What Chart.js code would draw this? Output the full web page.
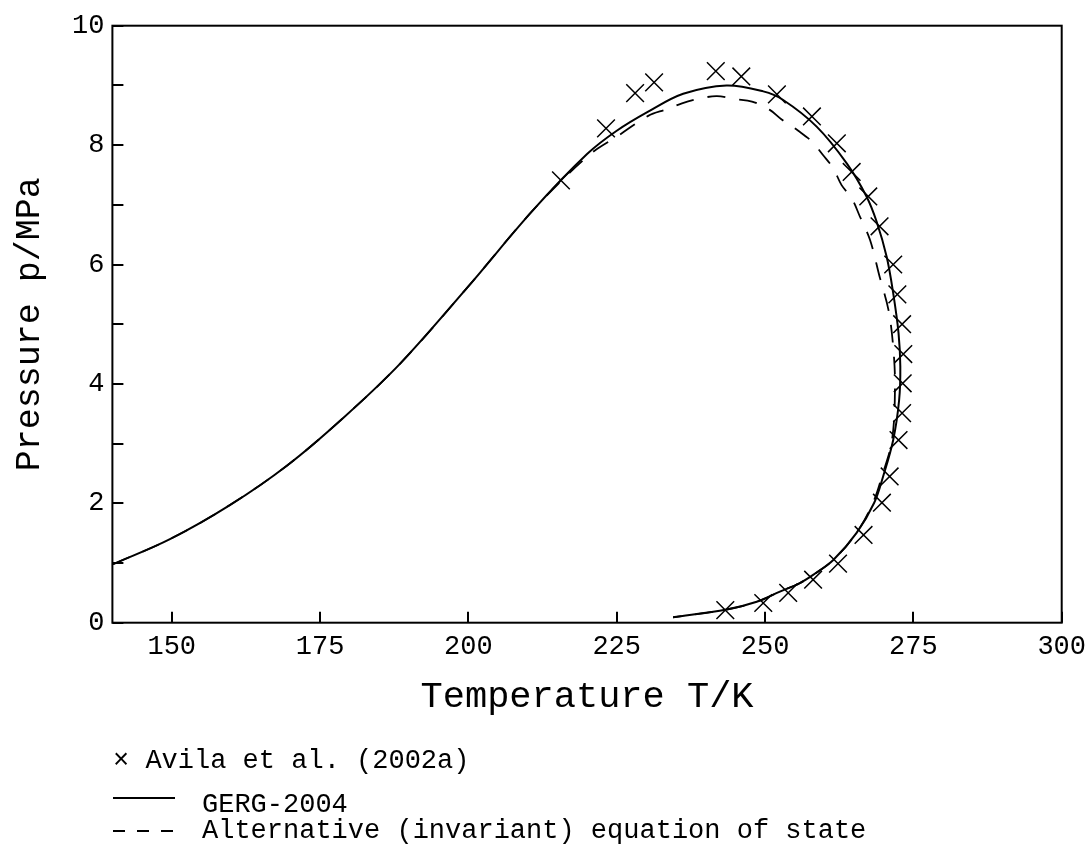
<!DOCTYPE html>
<html>
<head>
<meta charset="utf-8">
<script src="https://cdn.jsdelivr.net/npm/chart.js@4"></script>
<style>
  html, body { margin: 0; padding: 0; background: #fff; }
  #wrap { width: 1088px; height: 847px; }
</style>
</head>
<body>
<div id="wrap"><canvas id="c" width="1088" height="847"></canvas></div>
<script>
// ---- data ----
const avilaT = [215.6, 223.2, 228.1, 231.3, 241.7, 246.0, 252.0, 257.9, 262.1, 264.6, 267.4, 269.3, 271.6, 272.3, 273.1, 273.3, 273.2, 273.1, 272.5, 271.0, 269.7, 266.6, 262.3, 258.1, 253.9, 249.7, 243.3];
const avilaP = [7.41, 8.28, 8.87, 9.05, 9.24, 9.15, 8.85, 8.48, 8.03, 7.55, 7.14, 6.64, 6.00, 5.50, 5.00, 4.50, 4.01, 3.51, 3.06, 2.45, 2.01, 1.47, 0.99, 0.72, 0.50, 0.33, 0.21];

const gergT = [140.1, 149.7, 159.8, 169.4, 178.9, 188.5, 199.7, 210.9, 220.0, 225.0, 230.3, 236.2, 243.5, 249.7, 253.0, 258.7, 263.8, 267.1, 268.8, 270.5, 271.6, 272.5, 272.8, 272.6, 271.6, 269.9, 268.4, 265.4, 261.5, 258.1, 255.8, 252.5, 248.6, 243.5, 234.5];
const gergP = [0.98, 1.40, 1.97, 2.63, 3.43, 4.34, 5.60, 6.91, 7.85, 8.24, 8.56, 8.86, 9.00, 8.90, 8.76, 8.31, 7.69, 7.14, 6.72, 6.13, 5.52, 4.85, 4.29, 3.73, 3.06, 2.45, 2.01, 1.50, 1.05, 0.80, 0.66, 0.52, 0.35, 0.22, 0.09];

const altT = [140.1, 149.7, 159.8, 169.4, 178.9, 188.5, 199.7, 210.9, 220.3, 225.3, 230.3, 233.4, 236.0, 239.0, 241.9, 245.0, 247.8, 250.8, 252.8, 255.6, 257.9, 259.8, 261.5, 262.9, 264.6, 266.0, 267.7, 269.3, 270.8, 271.6, 271.9, 271.4, 269.7, 268.2, 265.4, 261.5, 258.1, 255.8, 252.5, 248.6, 243.5, 234.5];
const altP = [0.98, 1.40, 1.97, 2.63, 3.43, 4.34, 5.60, 6.91, 7.83, 8.16, 8.49, 8.60, 8.70, 8.78, 8.82, 8.77, 8.73, 8.59, 8.43, 8.24, 8.06, 7.83, 7.61, 7.33, 7.11, 6.80, 6.41, 5.80, 5.24, 4.62, 3.95, 3.06, 2.45, 2.01, 1.50, 1.05, 0.80, 0.66, 0.52, 0.35, 0.22, 0.09];

const xTickValues = [150, 175, 200, 225, 250, 275, 300];
const yTickValues = [0, 1, 2, 3, 4, 5, 6, 7, 8, 9, 10];
const yLabelValues = [0, 2, 4, 6, 8, 10];

const seriesLabels = ['Avila et al. (2002a)', 'GERG-2004', 'Alternative (invariant) equation of state'];
const xTitle = 'Temperature T/K';
const yTitle = 'Pressure p/MPa';

const FONT = "'Liberation Mono', 'DejaVu Sans Mono', monospace";
const toXY = (xs, ys) => xs.map((x, i) => ({ x: x, y: ys[i] }));

const frameTicks = {
  id: 'frameTicks',
  afterDatasetsDraw(chart) {
    const { ctx, chartArea: a, scales } = chart;
    ctx.save();
    ctx.strokeStyle = '#000';
    ctx.lineWidth = 2;
    ctx.setLineDash([]);
    ctx.strokeRect(a.left, a.top, a.right - a.left, a.bottom - a.top);
    ctx.beginPath();
    scales.x.ticks.forEach(t => {
      const px = Math.round(scales.x.getPixelForValue(t.value));
      ctx.moveTo(px, a.bottom);
      ctx.lineTo(px, a.bottom - 11);
    });
    scales.y.ticks.forEach(t => {
      const py = Math.round(scales.y.getPixelForValue(t.value));
      ctx.moveTo(a.left, py);
      ctx.lineTo(a.left + 11, py);
    });
    ctx.stroke();
    ctx.restore();
  }
};

const bottomLegend = {
  id: 'bottomLegend',
  afterDraw(chart) {
    const { ctx } = chart;
    const ds = chart.data.datasets;
    ctx.save();
    ctx.fillStyle = '#000';
    ctx.strokeStyle = '#000';
    ctx.font = '27px ' + FONT;
    ctx.textBaseline = 'alphabetic';
    ctx.textAlign = 'left';
    ctx.fillText('\u00d7 ' + ds[0].label, 113, 768);
    ctx.lineWidth = 2;
    ctx.beginPath();
    ctx.moveTo(113, 798); ctx.lineTo(175, 798);
    ctx.stroke();
    ctx.fillText(ds[1].label, 202, 812);
    ctx.setLineDash([12, 12]);
    ctx.beginPath();
    ctx.moveTo(113, 831); ctx.lineTo(174, 831);
    ctx.stroke();
    ctx.setLineDash([]);
    ctx.fillText(ds[2].label, 202, 838);
    ctx.restore();
  }
};

new Chart(document.getElementById('c'), {
  type: 'scatter',
  data: {
    datasets: [
      {
        label: seriesLabels[0],
        data: toXY(avilaT, avilaP),
        showLine: false,
        pointStyle: 'crossRot',
        pointRadius: 12.5,
        pointBorderWidth: 1.5,
        pointBorderColor: '#000',
        pointBackgroundColor: '#000',
        pointHoverRadius: 12.5
      },
      {
        label: seriesLabels[1],
        data: toXY(gergT, gergP),
        showLine: true,
        borderColor: '#000',
        borderWidth: 2,
        pointRadius: 0,
        tension: 0.35,
        fill: false
      },
      {
        label: seriesLabels[2],
        data: toXY(altT, altP),
        showLine: true,
        borderColor: '#000',
        borderWidth: 1.8,
        borderDash: [18, 14],
        pointRadius: 0,
        tension: 0.35,
        fill: false
      }
    ]
  },
  options: {
    responsive: false,
    animation: false,
    events: [],
    layout: { padding: { top: 25.7, right: 26.3, bottom: 127, left: 0 } },
    plugins: { legend: { display: false }, tooltip: { enabled: false } },
    scales: {
      x: {
        type: 'linear',
        min: 140, max: 300,
        afterBuildTicks: s => { s.ticks = xTickValues.map(v => ({ value: v })); },
        afterFit: s => { s.height = 97.3; s.paddingLeft = 0; s.paddingRight = 0; },
        grid: { display: false, drawTicks: false },
        border: { display: false },
        ticks: { autoSkip: false, maxRotation: 0, padding: 8, color: '#000', font: { family: FONT, size: 27 } },
        title: { display: true, text: xTitle, color: '#000', font: { family: FONT, size: 37 }, padding: { top: 0, bottom: 1 } }
      },
      y: {
        type: 'linear',
        min: 0, max: 10,
        afterBuildTicks: s => { s.ticks = yTickValues.map(v => ({ value: v })); },
        afterFit: s => { s.width = 112.4; s.paddingTop = 0; s.paddingBottom = 0; },
        grid: { display: false, drawTicks: false },
        border: { display: false },
        ticks: {
          autoSkip: false, padding: 8, color: '#000', font: { family: FONT, size: 27 },
          callback: v => (yLabelValues.includes(v) ? String(v) : '')
        },
        title: { display: true, text: yTitle, color: '#000', font: { family: FONT, size: 35 }, padding: { top: 9, bottom: 0 } }
      }
    }
  },
  plugins: [frameTicks, bottomLegend]
});
</script>
</body>
</html>
